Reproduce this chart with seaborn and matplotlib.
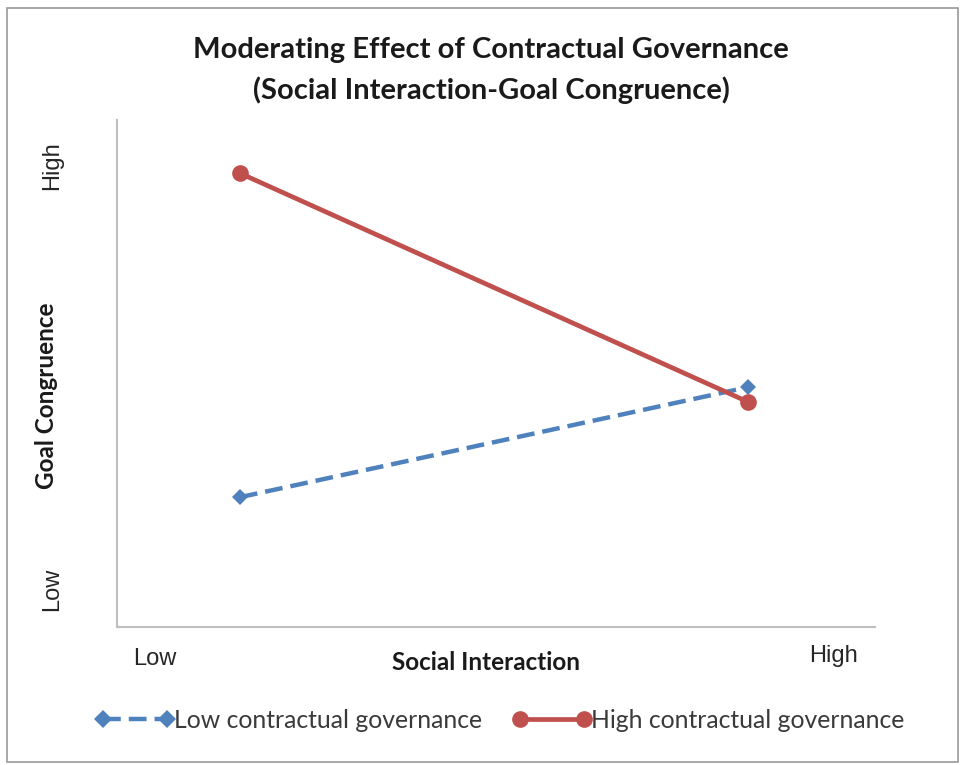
import matplotlib
matplotlib.use("Agg")
import matplotlib.pyplot as plt
import seaborn as sns
import pandas as pd
from matplotlib.lines import Line2D
from matplotlib.patches import Rectangle

# Data
x_levels = [0, 1]                      # Low, High social interaction
x_tick_labels = ["Low", "High"]
y_tick_labels = ["Low", "High"]
low_cg = [2.56, 4.73]                  # Low contractual governance
high_cg = [8.95, 4.44]                 # High contractual governance
series_names = ["Low contractual governance", "High contractual governance"]

df = pd.DataFrame({
    "x": x_levels * 2,
    "y": low_cg + high_cg,
    "series": [series_names[0]] * 2 + [series_names[1]] * 2,
})

sns.set_theme(style="white")
plt.rcParams["font.family"] = ["Lato", "DejaVu Sans"]

W, H = 963, 765
fig = plt.figure(figsize=(W / 100, H / 100), dpi=100)
ax = fig.add_axes([117 / W, 1 - 627 / H, (875 - 117) / W, (627 - 120) / H])

blue = "#4F81BD"
red = "#C0504D"
dash = (0, (4, 1.8))

sns.lineplot(data=df[df.series == series_names[0]], x="x", y="y", ax=ax,
             color=blue, lw=3.2, linestyle=dash, marker="D",
             markersize=8, markeredgewidth=0, legend=False)
sns.lineplot(data=df[df.series == series_names[1]], x="x", y="y", ax=ax,
             color=red, lw=3.4, marker="o", markersize=12,
             markeredgewidth=0, legend=False)

ax.set_xlim(-0.242, 1.25)
ax.set_ylim(0, 10)
ax.set_xticks([])
ax.set_yticks([])
ax.set_xlabel("")
ax.set_ylabel("")
for s in ["top", "right"]:
    ax.spines[s].set_visible(False)
for s in ["left", "bottom"]:
    ax.spines[s].set_color("#bfbfbf")
    ax.spines[s].set_linewidth(1.5)

# Title
fig.text(491 / W, 1 - 50 / H, "Moderating Effect of Contractual Governance",
         ha="center", va="center", fontsize=21, fontweight="bold", color="#1a1a1a")
fig.text(491 / W, 1 - 90 / H, "(Social Interaction-Goal Congruence)",
         ha="center", va="center", fontsize=21, fontweight="bold", color="#1a1a1a")

# Axis labels
fig.text(486 / W, 1 - 663 / H, "Social Interaction", ha="center", va="center",
         fontsize=17.5, fontweight="bold", color="#1a1a1a")
fig.text(46 / W, 1 - 396 / H, "Goal Congruence", ha="center", va="center",
         rotation=90, fontsize=17.5, fontweight="bold", color="#1a1a1a")

# Low/High labels
fig.text(155 / W, 1 - 659 / H, x_tick_labels[0], ha="center", va="center",
         fontsize=17, family="Liberation Sans", color="#262626")
fig.text(833 / W, 1 - 656 / H, x_tick_labels[1], ha="center", va="center",
         fontsize=17, family="Liberation Sans", color="#262626")
fig.text(52 / W, 1 - 589 / H, y_tick_labels[0], ha="center", va="center",
         rotation=90, fontsize=17, family="Liberation Sans", color="#262626")
fig.text(52 / W, 1 - 166 / H, y_tick_labels[1], ha="center", va="center",
         rotation=90, fontsize=17, family="Liberation Sans", color="#262626")

# Legend
handles = [
    Line2D([], [], color=blue, lw=3.2, linestyle=dash, marker="D",
           markersize=9, markeredgewidth=0),
    Line2D([], [], color=red, lw=3.4, marker="o", markersize=12, markeredgewidth=0),
]
leg = fig.legend(handles, series_names, loc="center", bbox_to_anchor=(500 / W, 1 - 720 / H),
                 ncol=2, frameon=False, fontsize=17.8, handlelength=3.2, numpoints=2,
                 handletextpad=0.0, columnspacing=1.2)
for t in leg.get_texts():
    t.set_color("#3a3a3a")

# Outer frame
fig.patches.append(Rectangle((7 / W, 3 / H), (958 - 7) / W, (757 - 3) / H,
                             transform=fig.transFigure, fill=False,
                             edgecolor="#9a9a9a", lw=1.2))

fig.savefig("out.png", dpi=100)
